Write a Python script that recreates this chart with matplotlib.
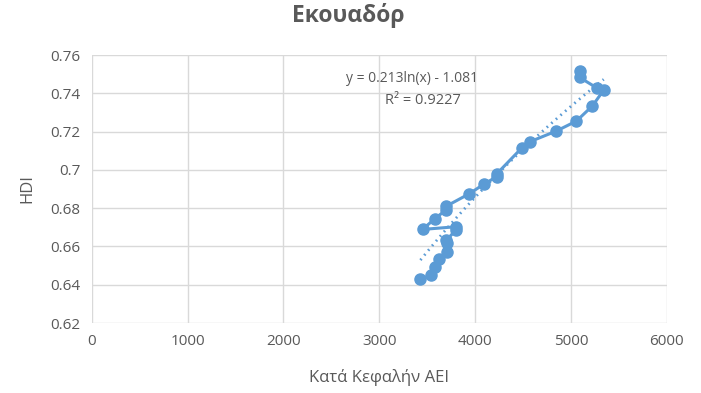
import numpy as np
import matplotlib.pyplot as plt

plt.rcParams['font.family'] = ['Open Sans', 'DejaVu Sans']

# per-capita GNI and HDI, in path order
gni = [3430, 3545, 3587, 3622, 3709, 3709, 3702, 3800, 3800, 3452, 3580, 3695, 3702,
       3935, 4095, 4224, 4224, 4485, 4572, 4849, 5058, 5225, 5343, 5268, 5092, 5100]
hdi = [0.6428, 0.6451, 0.6491, 0.6534, 0.6572, 0.6616, 0.6633, 0.6686, 0.6703, 0.6689,
       0.6745, 0.6790, 0.6811, 0.6874, 0.6926, 0.6964, 0.6978, 0.7113, 0.7147, 0.7203,
       0.7255, 0.7334, 0.7417, 0.7429, 0.7483, 0.7518]
fit_a = 0.213
fit_b = -1.081

blue = '#5B9BD5'
txt = '#595959'

fig = plt.figure(figsize=(7.01, 3.93), dpi=100)
ax = fig.add_axes([0.131, 0.178, 0.82, 0.682])

ax.plot(gni, hdi, color=blue, lw=2.2, marker='o', ms=8, zorder=3)

xs = np.linspace(min(gni), max(gni), 100)
ax.plot(xs, fit_a * np.log(xs) + fit_b, color=blue, lw=2, ls=(0, (0.6, 1.6)), zorder=2)

ax.text(3340, 0.7475, 'y = 0.213ln(x) - 1.081', ha='center', va='center', fontsize=10, color=txt)
ax.text(3460, 0.7365, 'R² = 0.9227', ha='center', va='center', fontsize=10.5, color=txt)

ax.set_xlim(0, 6000)
ax.set_ylim(0.62, 0.76)
ax.set_xticks(range(0, 6001, 1000))
ax.set_yticks(np.arange(0.62, 0.7601, 0.02))
ax.set_yticklabels(['0.62', '0.64', '0.66', '0.68', '0.7', '0.72', '0.74', '0.76'])
ax.grid(True, color='#D9D9D9', lw=1)
ax.set_axisbelow(True)
for s in ax.spines.values():
    s.set_visible(False)
ax.tick_params(length=0, labelsize=11, colors=txt, pad=8)

fig.text(0.497, 1 - 16 / 393, 'Εκουαδόρ', ha='center', va='center',
         fontsize=16.5, fontweight='bold', color=txt)
ax.set_xlabel('Κατά Κεφαλήν ΑΕΙ', fontsize=12, color=txt, labelpad=14)
ax.set_ylabel('HDI', fontsize=12, color=txt, labelpad=11)

fig.savefig('out.png', dpi=100)
